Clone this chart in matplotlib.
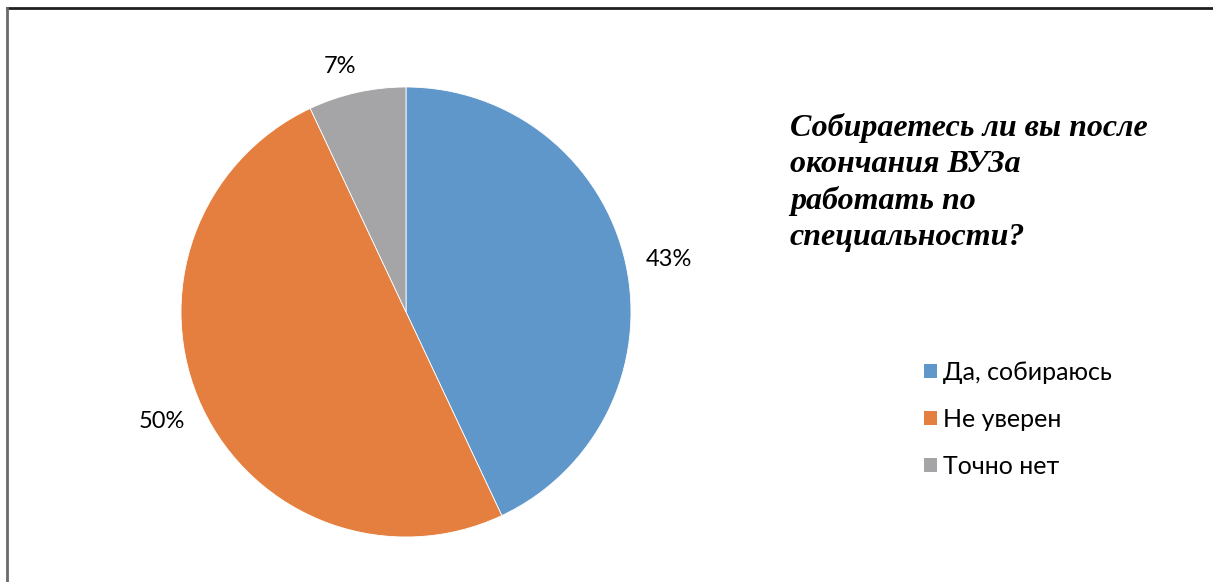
import numpy as np
import matplotlib
matplotlib.use("Agg")
import matplotlib.pyplot as plt
from matplotlib.patches import Patch
from matplotlib.lines import Line2D

# Survey answers
categories = ["Да, собираюсь", "Не уверен", "Точно нет"]
shares = [43, 50, 7]
colors = ["#5F97CB", "#E57F3F", "#A5A5A8"]
title = "Собираетесь ли вы после\nокончания ВУЗа\nработать по\nспециальности?"

W, H = 1213, 582
fig = plt.figure(figsize=(W / 100, H / 100), dpi=100)
fig.patch.set_facecolor("white")

# chart frame (top and left edges)
fig.add_artist(Line2D([7 / W, 1.0], [1 - 8 / H, 1 - 8 / H], transform=fig.transFigure,
                      color="#202020", lw=2.0))
fig.add_artist(Line2D([7 / W, 7 / W], [0.0, 1 - 8 / H], transform=fig.transFigure,
                      color="#6a6a6a", lw=2.0))

cx, cy, r = 406, 312, 225
ax = fig.add_axes([(cx - r) / W, (H - cy - r) / H, 2 * r / W, 2 * r / H])
wedges, _ = ax.pie(shares, colors=colors, startangle=90, counterclock=False,
                   radius=1.0, wedgeprops=dict(edgecolor="white", linewidth=0.6))
ax.set_xlim(-1, 1)
ax.set_ylim(-1, 1)
ax.set_aspect("equal")
ax.axis("off")

label_font = dict(family=["Lato", "DejaVu Sans"], size=17, color="#000000")
label_dist = [1.19, 1.19, 1.13]
label_shift = [-1.3, -1.0, 2.5]  # degrees, nudges labels off the slice bisector
for w, v, d, s in zip(wedges, shares, label_dist, label_shift):
    ang = np.deg2rad((w.theta1 + w.theta2) / 2 + s)
    ax.text(d * np.cos(ang), d * np.sin(ang), f"{v}%", ha="center", va="center",
            **label_font)

fig.text(790 / W, 1 - 113 / H, title, ha="left", va="top",
         family=["Liberation Serif", "DejaVu Serif"], style="italic", weight="bold",
         size=23, linespacing=1.32, color="#000000")

handles = [Patch(facecolor=c, edgecolor="none") for c in colors]
fig.legend(handles, categories, loc="upper left",
           bbox_to_anchor=(904 / W, 1 - 341 / H), frameon=False,
           prop=dict(family=["Lato", "DejaVu Sans"], size=18),
           handlelength=0.5, handleheight=0.5, handletextpad=0.25,
           labelspacing=0.95, borderpad=0.3)

fig.savefig("out.png", dpi=100, facecolor="white")
